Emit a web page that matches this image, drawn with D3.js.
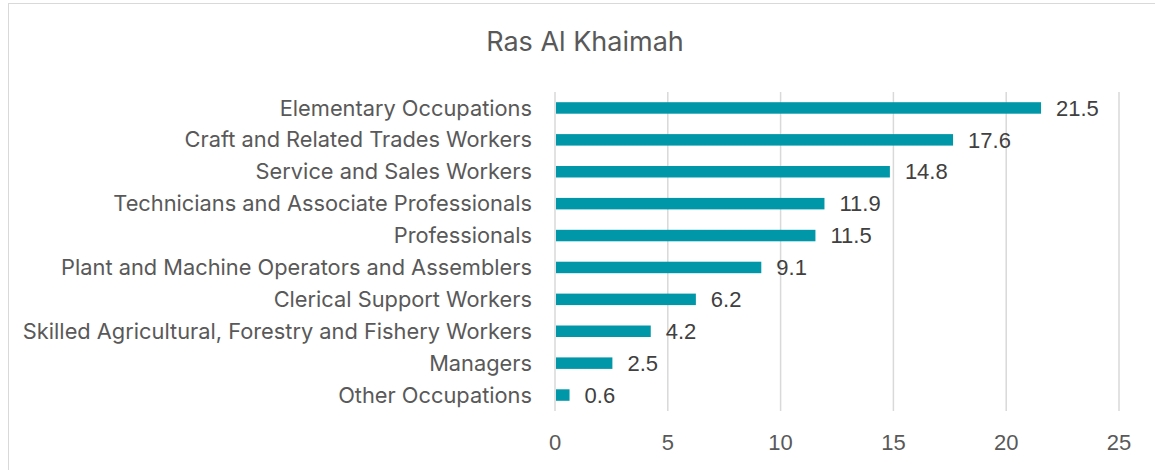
<!DOCTYPE html>
<html>
<head>
<meta charset="utf-8">
<script src="https://cdn.jsdelivr.net/npm/d3@7"></script>
<style>
  body { margin: 0; background: #fff; }
  svg { display: block; }
</style>
</head>
<body>
<svg id="chart" width="1155" height="470"></svg>
<script>
(() => {
    const categories = [
        "Elementary Occupations",
        "Craft and Related Trades Workers",
        "Service and Sales Workers",
        "Technicians and Associate Professionals",
        "Professionals",
        "Plant and Machine Operators and Assemblers",
        "Clerical Support Workers",
        "Skilled Agricultural, Forestry and Fishery Workers",
        "Managers",
        "Other Occupations"
    ];
    const values = [21.5, 17.6, 14.8, 11.9, 11.5, 9.1, 6.2, 4.2, 2.5, 0.6];
    const ticks = [0, 5, 10, 15, 20, 25];
    const title = "Ras Al Khaimah";

    let svg = d3.select("#chart"),
        labelFont = "Inter, 'Open Sans', sans-serif",
        numFont = "'Liberation Sans', Arial, sans-serif",
        textColor = "#595959",
        margin = { left: 555, right: 36, top: 92, bottom: 59 },
        width = +svg.attr("width"),
        height = +svg.attr("height");

    // chart area border
    svg.append("rect")
        .attr("x", 8.5).attr("y", 3.5)
        .attr("width", width + 10).attr("height", height + 10)
        .attr("fill", "none")
        .attr("stroke", "#d9d9d9");

    let x = d3.scaleLinear()
        .domain([0, 25])
        .range([margin.left, width - margin.right]);

    let y = d3.scaleBand()
        .domain(categories)
        .range([margin.top, height - margin.bottom])
        .paddingInner(0.64)
        .paddingOuter(0.32);

    // gridlines
    svg.append("g")
        .selectAll("line")
        .data(ticks)
        .join("line")
        .attr("x1", d => x(d)).attr("x2", d => x(d))
        .attr("y1", margin.top).attr("y2", height - margin.bottom)
        .attr("stroke", "#d9d9d9")
        .attr("stroke-width", 1.5);

    // tick labels
    svg.append("g")
        .selectAll("text")
        .data(ticks)
        .join("text")
        .attr("x", d => x(d))
        .attr("y", 442)
        .attr("dy", "0.35em")
        .attr("text-anchor", "middle")
        .attr("font-family", numFont)
        .attr("font-size", 22)
        .attr("fill", textColor)
        .text(d => d);

    // bars
    svg.append("g")
        .selectAll("rect")
        .data(values)
        .join("rect")
        .attr("x", x(0) + 1)
        .attr("y", (d, i) => y(categories[i]))
        .attr("width", d => x(d) - x(0))
        .attr("height", y.bandwidth())
        .attr("fill", "#0097a9");

    // value labels
    svg.append("g")
        .selectAll("text")
        .data(values)
        .join("text")
        .attr("x", d => x(d) + 16)
        .attr("y", (d, i) => y(categories[i]) + y.bandwidth() / 2)
        .attr("dy", "0.35em")
        .attr("font-family", numFont)
        .attr("font-size", 22)
        .attr("fill", "#404040")
        .text(d => d.toFixed(1));

    // category labels
    svg.append("g")
        .selectAll("text")
        .data(categories)
        .join("text")
        .attr("x", 532)
        .attr("y", d => y(d) + y.bandwidth() / 2)
        .attr("dy", "0.35em")
        .attr("text-anchor", "end")
        .attr("font-family", labelFont)
        .attr("font-size", 21.8)
        .attr("fill", textColor)
        .text(d => d);

    svg.append("text")
        .attr("x", 585)
        .attr("y", 42)
        .attr("dy", "0.35em")
        .attr("text-anchor", "middle")
        .attr("font-family", labelFont)
        .attr("font-size", 27)
        .attr("fill", textColor)
        .text(title);
})();
</script>
</body>
</html>
